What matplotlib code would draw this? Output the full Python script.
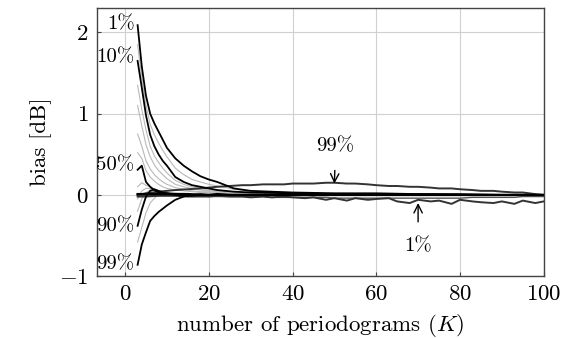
import matplotlib
matplotlib.use("Agg")
import matplotlib.pyplot as plt

plt.rcParams["font.family"] = "serif"
plt.rcParams["font.serif"] = ["cmr10"]
plt.rcParams["mathtext.fontset"] = "cm"
plt.rcParams["axes.formatter.use_mathtext"] = True

# first estimator, percentile curves
K_a = [3, 4, 5, 6, 7, 8, 9, 10, 12, 14, 16, 18, 20, 22, 24, 26, 30, 40, 50, 60, 70, 80, 90, 100]
a01 = [2.09, 1.58, 1.22, 1.00, 0.88, 0.78, 0.68, 0.58, 0.45, 0.36, 0.29, 0.23, 0.19, 0.16, 0.12, 0.08, 0.05, 0.03, 0.02, 0.02, 0.01, 0.01, 0.00, 0.00]
a10 = [1.65, 1.32, 0.98, 0.74, 0.60, 0.50, 0.42, 0.36, 0.22, 0.16, 0.12, 0.10, 0.08, 0.06, 0.05, 0.04, 0.03, 0.02, 0.01, 0.01, 0.01, 0.00, 0.00, 0.00]
a50 = [0.31, 0.36, 0.16, 0.10, 0.06, 0.03, 0.02, 0.02, 0.01, 0.01, 0.00, 0.01, 0.00, 0.00, 0.00, 0.00, 0.00, 0.00, 0.00, 0.00, 0.00, 0.00, 0.00, 0.00]
a90 = [-0.38, -0.18, -0.02, 0.05, 0.07, 0.05, 0.03, 0.02, 0.00, -0.01, -0.01, 0.00, 0.00, 0.00, 0.00, 0.00, 0.00, 0.00, 0.00, 0.00, 0.00, 0.00, 0.00, 0.00]
a99 = [-0.86, -0.61, -0.46, -0.32, -0.26, -0.21, -0.17, -0.13, -0.06, -0.02, 0.00, 0.00, 0.00, 0.00, 0.00, 0.00, 0.00, 0.00, 0.00, 0.00, 0.00, 0.00, 0.00, 0.00]

# grey intermediate percentiles
g05 = [1.85, 1.45, 1.10, 0.87, 0.74, 0.64, 0.55, 0.47, 0.33, 0.25, 0.19, 0.16, 0.13, 0.11, 0.09, 0.07, 0.04, 0.02, 0.02, 0.01, 0.01, 0.00, 0.00, 0.00]
g20 = [1.35, 1.05, 0.80, 0.60, 0.48, 0.40, 0.33, 0.27, 0.18, 0.13, 0.10, 0.08, 0.06, 0.05, 0.04, 0.03, 0.02, 0.01, 0.01, 0.01, 0.00, 0.00, 0.00, 0.00]
g30 = [1.10, 0.85, 0.62, 0.47, 0.37, 0.30, 0.25, 0.20, 0.13, 0.10, 0.08, 0.06, 0.05, 0.04, 0.03, 0.02, 0.02, 0.01, 0.01, 0.00, 0.00, 0.00, 0.00, 0.00]
g40 = [0.75, 0.60, 0.42, 0.32, 0.25, 0.20, 0.16, 0.13, 0.09, 0.07, 0.05, 0.04, 0.04, 0.03, 0.02, 0.02, 0.01, 0.01, 0.00, 0.00, 0.00, 0.00, 0.00, 0.00]
g45 = [0.52, 0.45, 0.30, 0.22, 0.17, 0.13, 0.10, 0.08, 0.06, 0.05, 0.04, 0.03, 0.03, 0.02, 0.02, 0.01, 0.01, 0.00, 0.00, 0.00, 0.00, 0.00, 0.00, 0.00]
g60 = [0.10, 0.15, 0.12, 0.10, 0.07, 0.05, 0.04, 0.03, 0.02, 0.02, 0.01, 0.01, 0.01, 0.00, 0.00, 0.00, 0.00, 0.00, 0.00, 0.00, 0.00, 0.00, 0.00, 0.00]
g70 = [-0.05, 0.05, 0.08, 0.08, 0.06, 0.05, 0.04, 0.03, 0.02, 0.01, 0.01, 0.01, 0.00, 0.00, 0.00, 0.00, 0.00, 0.00, 0.00, 0.00, 0.00, 0.00, 0.00, 0.00]
g80 = [-0.20, -0.05, 0.03, 0.06, 0.06, 0.05, 0.04, 0.03, 0.02, 0.01, 0.01, 0.00, 0.00, 0.00, 0.00, 0.00, 0.00, 0.00, 0.00, 0.00, 0.00, 0.00, 0.00, 0.00]
g95 = [-0.58, -0.40, -0.22, -0.10, -0.04, 0.00, 0.01, 0.01, 0.00, 0.00, 0.00, 0.00, 0.00, 0.00, 0.00, 0.00, 0.00, 0.00, 0.00, 0.00, 0.00, 0.00, 0.00, 0.00]

# second estimator
K_b = [3, 5, 8, 10, 12, 15, 18, 20, 22, 25, 28, 30, 33, 35, 38, 40, 43, 45, 48, 50,
       53, 55, 58, 60, 63, 65, 68, 70, 73, 75, 78, 80, 83, 85, 88, 90, 93, 95, 98, 100]
b99 = [0.00, 0.02, 0.04, 0.05, 0.06, 0.07, 0.08, 0.09, 0.10, 0.11, 0.12, 0.12, 0.13, 0.13, 0.13, 0.14, 0.14, 0.14, 0.15, 0.15,
       0.14, 0.14, 0.13, 0.12, 0.11, 0.11, 0.10, 0.10, 0.09, 0.08, 0.08, 0.07, 0.06, 0.05, 0.05, 0.04, 0.03, 0.03, 0.01, 0.00]
b50 = [0.01, 0.01, 0.01, 0.01, 0.01, 0.01, 0.00, 0.00, 0.01, 0.00, 0.00, 0.00, 0.00, 0.00, 0.00, 0.00, 0.00, 0.00, 0.00, 0.00,
       0.00, 0.00, 0.00, 0.00, 0.00, 0.00, 0.00, 0.00, 0.00, 0.00, 0.00, 0.00, 0.00, 0.00, 0.00, 0.00, 0.00, 0.00, 0.00, 0.00]
b10 = [-0.01, -0.01, -0.01, -0.01, -0.01, -0.01, -0.01, -0.02, -0.02, -0.02, -0.02, -0.02, -0.02, -0.03, -0.03, -0.03, -0.03, -0.03, -0.03, -0.04,
       -0.04, -0.04, -0.04, -0.04, -0.04, -0.04, -0.04, -0.04, -0.04, -0.04, -0.04, -0.04, -0.03, -0.03, -0.03, -0.03, -0.03, -0.02, -0.02, -0.02]
b01 = [-0.02, -0.02, -0.01, -0.01, -0.01, -0.02, -0.02, -0.02, -0.01, -0.02, -0.02, -0.03, -0.02, -0.03, -0.02, -0.03, -0.04, -0.03, -0.06, -0.04,
       -0.07, -0.04, -0.06, -0.05, -0.04, -0.08, -0.10, -0.06, -0.08, -0.07, -0.11, -0.06, -0.08, -0.09, -0.10, -0.08, -0.11, -0.07, -0.10, -0.08]

left_labels = ["1%", "10%", "50%", "90%", "99%"]
left_label_y = [2.1, 1.69, 0.36, -0.38, -0.85]

fig = plt.figure(figsize=(5.64, 3.38), dpi=100)
ax = fig.add_axes([0.172, 0.183, 0.792, 0.793])

for g in [g05, g20, g30, g40, g45, g60, g70, g80, g95]:
    ax.plot(K_a, g, color="#b8b8b8", lw=0.8, zorder=2)

ax.plot(K_b, b10, color="#555555", lw=1.0, zorder=3)
ax.plot(K_b, b99, color="#333333", lw=1.4, zorder=3)
ax.plot(K_b, b01, color="#333333", lw=1.4, zorder=3)
ax.plot(K_b, b50, color="black", lw=1.7, zorder=4)

for a in [a01, a10, a50, a90, a99]:
    ax.plot(K_a, a, color="black", lw=1.3, zorder=4)

fs = 16.5
fs_lab = 15
for lab, yy in zip(left_labels, left_label_y):
    ax.text(2.3, yy, lab, ha="right", va="center", fontsize=fs_lab, zorder=5)

ax.annotate("99%", xy=(50, 0.14), xytext=(50.3, 0.60), ha="center", va="center", fontsize=fs_lab,
            arrowprops=dict(arrowstyle="->", color="black", lw=1.0, shrinkA=9, shrinkB=0))
ax.annotate("1%", xy=(70, -0.10), xytext=(70, -0.63), ha="center", va="center", fontsize=fs_lab,
            arrowprops=dict(arrowstyle="->", color="black", lw=1.0, shrinkA=9, shrinkB=0))

ax.set_xlim(-6.7, 100)
ax.set_ylim(-1, 2.3)
ax.set_xticks([0, 20, 40, 60, 80, 100])
ax.set_yticks([-1, 0, 1, 2])
ax.grid(True, color="#d0d0d0", lw=0.8, zorder=0)
ax.set_axisbelow(True)
ax.tick_params(direction="in", length=3, pad=6, labelsize=fs, colors="#444444", labelcolor="black")
for s in ax.spines.values():
    s.set_color("#444444")
    s.set_linewidth(1.0)

ax.set_xlabel(r"number of periodograms $(K)$", fontsize=fs, labelpad=6)
ax.set_ylabel("bias [dB]", fontsize=fs, labelpad=5)

fig.savefig("out.png", dpi=100)
